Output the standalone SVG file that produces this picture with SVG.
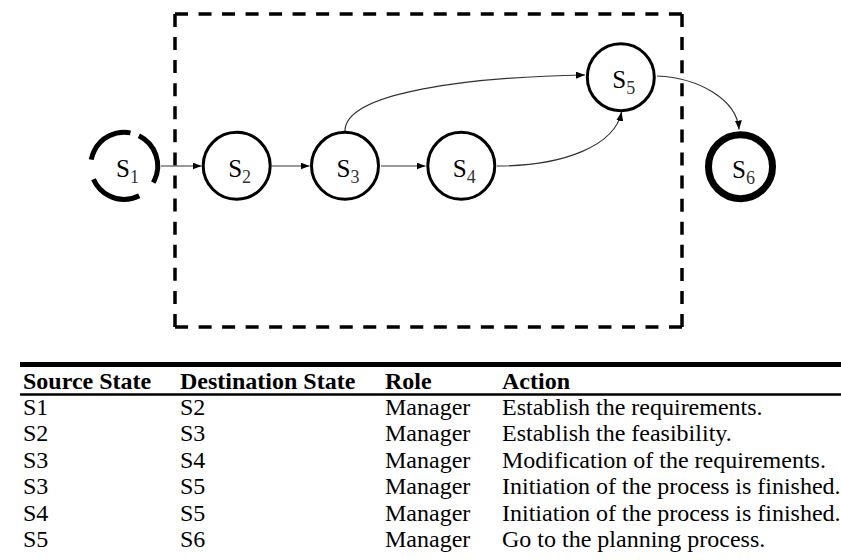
<svg xmlns="http://www.w3.org/2000/svg" width="841" height="560" viewBox="0 0 841 560">
  <style>
    .bg { fill: #ffffff; }
    .state { fill: #ffffff; stroke: #000000; stroke-width: 3; }
    .final { fill: #ffffff; stroke: #000000; stroke-width: 7; }
    .initial { fill: none; stroke: #000000; stroke-width: 5; stroke-dasharray: 55 19.3 54.4 19.9 52.6 9.4; }
    .frame { fill: none; stroke: #000000; stroke-width: 3.5; }
    .edge { fill: none; stroke: #333333; stroke-width: 1.2; marker-end: url(#arrow); }
    .lbl { font-family: "Liberation Serif", "Times New Roman", serif; font-size: 25px; fill: #000000; }
    .sub { font-size: 18px; fill: #333333; }
    .th { font-family: "Liberation Serif", "Times New Roman", serif; font-size: 24px; font-weight: bold; fill: #000000; }
    .td { font-family: "Liberation Serif", "Times New Roman", serif; font-size: 24px; fill: #000000; }
  </style>
  <defs>
    <marker id="arrow" viewBox="0 0 9 7" refX="9" refY="3.5" markerWidth="9" markerHeight="7" markerUnits="userSpaceOnUse" orient="auto">
      <path d="M0,0 L9,3.5 L0,7 Z" fill="#000000"/>
    </marker>
  </defs>

  <rect class="bg" x="0" y="0" width="841" height="560"/>

  <!-- dashed boundary: each side dashed from its own corners -->
  <g id="boundary" class="frame">
    <line x1="175" y1="14" x2="682" y2="14" stroke-dasharray="13 10.52"/>
    <line x1="682" y1="14" x2="682" y2="327" stroke-dasharray="13 10.08"/>
    <line x1="682" y1="327" x2="175" y2="327" stroke-dasharray="13 10.52"/>
    <line x1="175" y1="327" x2="175" y2="14" stroke-dasharray="13 10.08"/>
  </g>

  <!-- transitions -->
  <g id="connectors">
    <path class="edge" d="M161,166 L201.5,166"/>
    <path class="edge" d="M272,166 L309.5,166"/>
    <path class="edge" d="M381,166 L425.5,166"/>
    <path class="edge" d="M345,131 C345,92 470,77 585,75"/>
    <path class="edge" d="M497,166 C565,166 615,145 621.5,112"/>
    <path class="edge" d="M657,76 C700,78 737,100 739,129.5"/>
  </g>

  <g id="s1">
    <circle class="initial" cx="124.2" cy="165.8" r="33.5" transform="rotate(-64 124.2 165.8)"/>
    <text class="lbl" x="116" y="177">S<tspan class="sub" dy="5.5">1</tspan></text>
  </g>
  <g id="s2">
    <circle class="state" cx="236.7" cy="165.8" r="33.5"/>
    <text class="lbl" x="228.2" y="177">S<tspan class="sub" dy="5.5">2</tspan></text>
  </g>
  <g id="s3">
    <circle class="state" cx="345" cy="165.8" r="33.5"/>
    <text class="lbl" x="336.5" y="177">S<tspan class="sub" dy="5.5">3</tspan></text>
  </g>
  <g id="s4">
    <circle class="state" cx="461.3" cy="165.8" r="33.5"/>
    <text class="lbl" x="452.8" y="177">S<tspan class="sub" dy="5.5">4</tspan></text>
  </g>
  <g id="s5">
    <circle class="state" cx="620.8" cy="77.2" r="33.5"/>
    <text class="lbl" x="612.3" y="88.4">S<tspan class="sub" dy="5.5">5</tspan></text>
  </g>
  <g id="s6">
    <circle class="final" cx="740.5" cy="166.7" r="32"/>
    <text class="lbl" x="732" y="178">S<tspan class="sub" dy="5.5">6</tspan></text>
  </g>

  <!-- transition table -->
  <g id="table">
    <line x1="20" y1="364.5" x2="841" y2="364.5" stroke="#000000" stroke-width="5"/>
    <line x1="20" y1="394.5" x2="841" y2="394.5" stroke="#000000" stroke-width="2.5"/>
    <text class="th" x="23" y="389">Source State</text>
    <text class="th" x="180" y="389">Destination State</text>
    <text class="th" x="385" y="389">Role</text>
    <text class="th" x="502" y="389">Action</text>

    <text class="td" x="23" y="415">S1</text>
    <text class="td" x="180" y="415">S2</text>
    <text class="td" x="385" y="415">Manager</text>
    <text class="td" x="502" y="415">Establish the requirements.</text>

    <text class="td" x="23" y="441.4">S2</text>
    <text class="td" x="180" y="441.4">S3</text>
    <text class="td" x="385" y="441.4">Manager</text>
    <text class="td" x="502" y="441.4">Establish the feasibility.</text>

    <text class="td" x="23" y="467.8">S3</text>
    <text class="td" x="180" y="467.8">S4</text>
    <text class="td" x="385" y="467.8">Manager</text>
    <text class="td" x="502" y="467.8">Modification of the requirements.</text>

    <text class="td" x="23" y="494.2">S3</text>
    <text class="td" x="180" y="494.2">S5</text>
    <text class="td" x="385" y="494.2">Manager</text>
    <text class="td" x="502" y="494.2">Initiation of the process is finished.</text>

    <text class="td" x="23" y="520.6">S4</text>
    <text class="td" x="180" y="520.6">S5</text>
    <text class="td" x="385" y="520.6">Manager</text>
    <text class="td" x="502" y="520.6">Initiation of the process is finished.</text>

    <text class="td" x="23" y="547">S5</text>
    <text class="td" x="180" y="547">S6</text>
    <text class="td" x="385" y="547">Manager</text>
    <text class="td" x="502" y="547">Go to the planning process.</text>
  </g>
</svg>
